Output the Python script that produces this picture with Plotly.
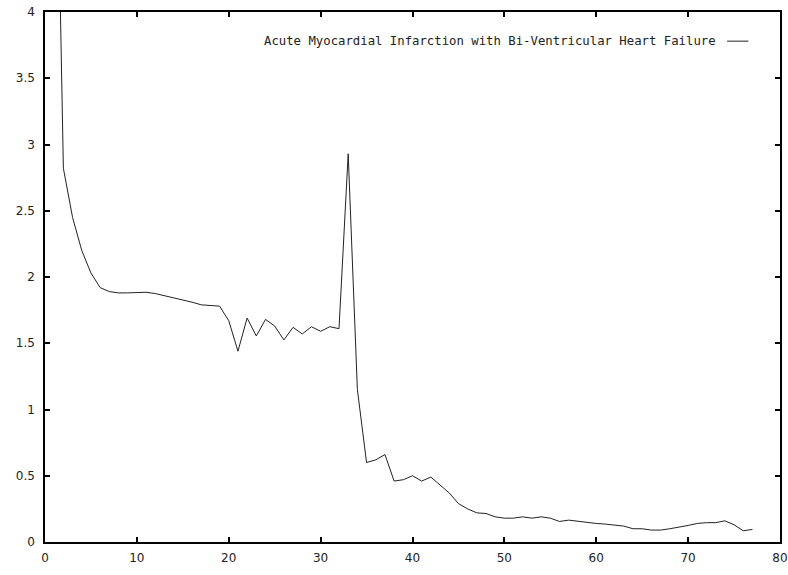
import plotly.graph_objects as go

# Series values (index 1..77).
days = list(range(1, 78))
ratio = [
    6.5, 2.82, 2.45, 2.20, 2.03, 1.92, 1.89, 1.88, 1.88, 1.88,
    1.885, 1.875, 1.86, 1.845, 1.83, 1.81, 1.79, 1.785, 1.78, 1.67,
    1.44, 1.69, 1.555, 1.68, 1.63, 1.525, 1.62, 1.57, 1.625, 1.59,
    1.625, 1.61, 2.93, 1.15, 0.60, 0.62, 0.66, 0.46, 0.47, 0.50,
    0.46, 0.49, 0.43, 0.37, 0.29, 0.25, 0.22, 0.215, 0.19, 0.18,
    0.18, 0.19, 0.18, 0.19, 0.18, 0.155, 0.165, 0.155, 0.145, 0.14,
    0.135, 0.13, 0.12, 0.10, 0.10, 0.09, 0.09, 0.10, 0.11, 0.125,
    0.14, 0.146, 0.146, 0.16, 0.13, 0.085, 0.095,
]
series_name = "Acute Myocardial Infarction with Bi-Ventricular Heart Failure"

x_ticks = list(range(0, 81, 10))
y_ticks = [0, 0.5, 1, 1.5, 2, 2.5, 3, 3.5, 4]
y_labels = ["0", "0.5", "1", "1.5", "2", "2.5", "3", "3.5", "4"]

fig = go.Figure()
fig.add_trace(go.Scatter(x=days, y=ratio, mode="lines", name=series_name,
                         line=dict(color="#222222", width=1)))

axis_style = dict(showline=True, linecolor="black", linewidth=1.5, mirror="allticks",
                  ticks="inside", ticklen=5, tickwidth=1.5, tickcolor="black",
                  showgrid=False, zeroline=False, automargin=False,
                  tickfont=dict(family="DejaVu Sans", size=12, color="#222222"))

fig.update_layout(
    width=788, height=575,
    margin=dict(l=45, r=8, t=12, b=33),
    plot_bgcolor="white", paper_bgcolor="white",
    showlegend=False,
    xaxis=dict(range=[0, 80], tickvals=x_ticks, ticklabelstandoff=4, **axis_style),
    yaxis=dict(range=[0, 4], tickvals=y_ticks, ticktext=y_labels,
               ticklabelstandoff=6, **axis_style),
)

# gnuplot-style key: title text with the line sample to its right.
fig.add_annotation(xref="paper", yref="paper", x=0.915, y=0.945,
                   xanchor="right", yanchor="middle", showarrow=False,
                   text=series_name,
                   font=dict(family="DejaVu Sans Mono", size=12.3, color="#222222"))
fig.add_shape(type="line", xref="paper", yref="paper",
              x0=0.928, x1=0.957, y0=0.945, y1=0.945,
              line=dict(color="#222222", width=1))

# Pin the chart to the page corner: no body margin, no scrollbars.
page_fix = ("document.body.style.margin='0';"
            "document.body.style.overflow='hidden';"
            "document.documentElement.style.overflow='hidden';")
fig.write_html("out.html", post_script=page_fix,
               config={"displayModeBar": False})
